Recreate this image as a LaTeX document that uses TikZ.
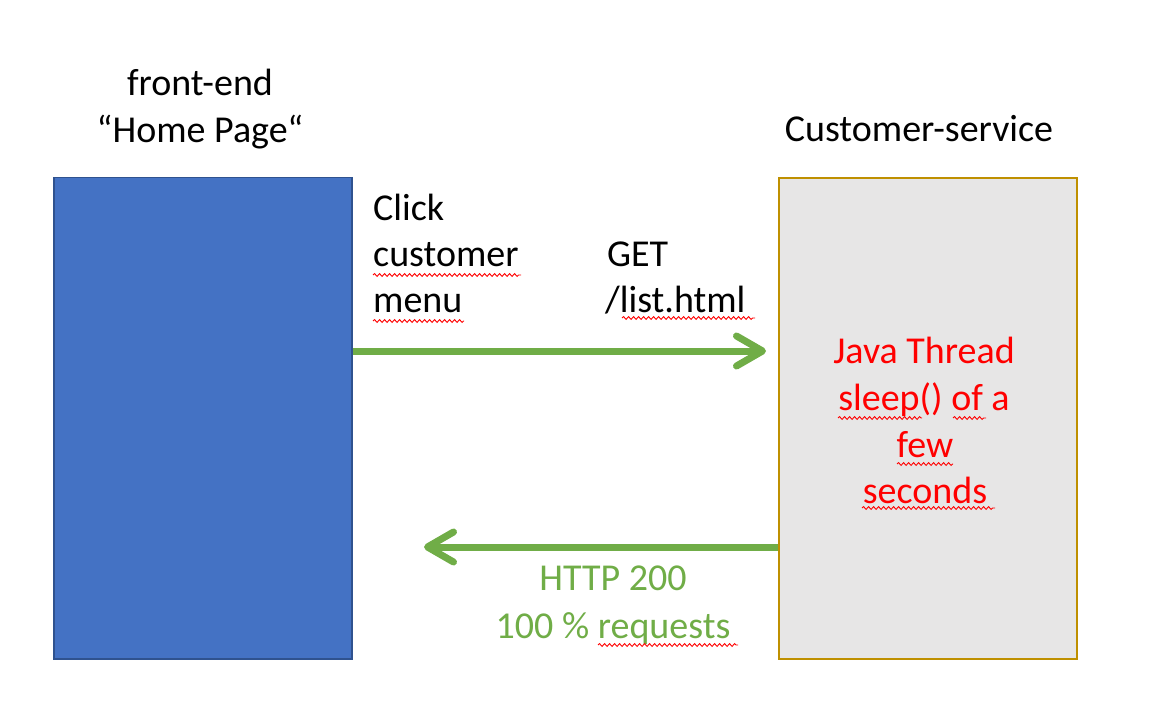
\documentclass[tikz,border=0pt]{standalone}
\usepackage{fontspec}
\setmainfont{Carlito}
\usetikzlibrary{arrows.meta,decorations.pathmorphing}
\definecolor{boxblue}{HTML}{4472C4}
\definecolor{boxblueedge}{HTML}{2F528F}
\definecolor{svcgray}{HTML}{E7E6E6}
\definecolor{svcedge}{HTML}{BF9000}
\definecolor{flowgreen}{HTML}{70AD47}
\definecolor{txtred}{HTML}{FF0000}
\begin{document}
\begin{tikzpicture}[x=1pt,y=-1pt,
  txt/.style={font=\fontsize{38}{46}\selectfont, inner sep=0pt},
  lline/.style={txt, anchor=base west},
  cline/.style={txt, anchor=base},
  flow/.style={draw=flowgreen, line width=7pt,
    -{Straight Barb[length=26pt, width=30pt, round]}},
  squiggle/.style={draw=red, line width=0.9pt,
    decorate, decoration={snake, amplitude=1.4pt, segment length=5pt}}]
\useasboundingbox (0,0) rectangle (1164,722);

% the two systems
\node[draw=boxblueedge, fill=boxblue, line width=1.5pt,
      minimum width=298pt, minimum height=481pt, anchor=north west,
      inner sep=0pt] (front) at (53,177) {};
\node[draw=svcedge, fill=svcgray, line width=1.8pt,
      minimum width=298pt, minimum height=481pt, anchor=north west,
      inner sep=0pt] (svc) at (778,177) {};

% titles
\node[cline] (t1) at (200,96) {front-end};
\node[cline] (t2) at (200,143) {“Home Page“};
\node[cline] (t3) at (919,142) {Customer-service};

% request labels
\node[lline] (c1) at (373,221) {Click};
\node[lline] (c2) at (373,266) {customer};
\node[lline] (c3) at (373,312) {menu};
\node[lline] (g1) at (607,266) {GET};
\node[lline] (g2) at (605,312) {/list.html};

% service behaviour
\node[cline, text=txtred] (r1) at (924,363) {Java Thread};
\node[cline, text=txtred] (r2) at (924,410) {sleep() of a};
\node[cline, text=txtred] (r3) at (925,457) {few};
\node[cline, text=txtred] (r4) at (925,503) {seconds};

% response labels
\node[cline, text=flowgreen] (h1) at (613,590) {HTTP 200};
\node[cline, text=flowgreen] (h2) at (613,638) {100 \% requests};

% request and response
\coordinate (tipA) at (766,351);
\coordinate (tipB) at (424,547);
\draw[flow] (front.east |- tipA) -- (tipA);
\draw[flow] (svc.west |- tipB) -- (tipB);

% spell-check underlines
\draw[squiggle] (373,275) -- (521,275);
\draw[squiggle] (373,321) -- (464,321);
\draw[squiggle] (622,318) -- (755,318);
\draw[squiggle] (838,418) -- (922,418);
\draw[squiggle] (953,418) -- (986,418);
\draw[squiggle] (897,464) -- (953,464);
\draw[squiggle] (862,508) -- (995,508);
\draw[squiggle] (598,645) -- (738,645);
\end{tikzpicture}
\end{document}
